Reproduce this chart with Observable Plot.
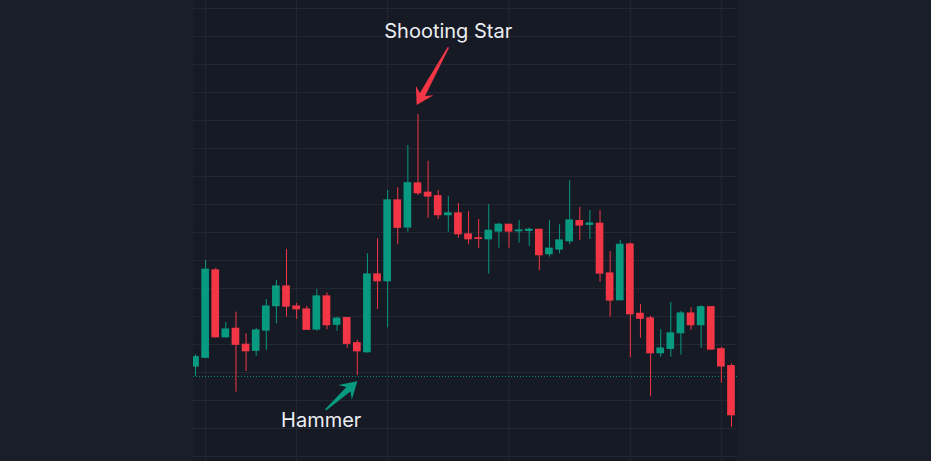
<!DOCTYPE html>
<html><head><meta charset="utf-8">
<script src="https://cdn.jsdelivr.net/npm/d3@7"></script>
<script src="https://cdn.jsdelivr.net/npm/@observablehq/plot@0.6"></script>
<style>
html,body{margin:0;padding:0;background:#1a1e29;overflow:hidden}
#chart svg{display:block}
</style></head><body><div id="chart"></div>
<script>
// OHLC values (arbitrary price units), one entry per candle
const opens = [104.43,105.05,111.29,106.52,107.12,105.98,105.55,107.00,108.74,110.14,108.71,108.50,107.07,109.43,107.41,107.88,106.09,105.45,111.00,110.52,116.29,114.36,117.50,116.84,116.59,115.24,115.36,113.86,113.59,113.52,114.07,114.55,114.09,114.12,114.19,112.45,112.79,113.38,114.81,114.55,114.62,111.07,109.16,113.14,108.19,107.86,105.38,105.69,106.81,108.21,107.38,108.66,105.66,104.45];
const closes = [105.09,111.34,106.52,107.07,105.98,105.52,107.00,108.71,110.14,108.71,108.52,107.05,109.43,107.38,107.84,106.05,105.52,111.00,110.52,116.29,114.34,117.52,116.81,116.57,115.24,115.36,113.88,113.52,113.55,114.12,114.55,114.07,114.14,114.19,112.38,112.84,113.43,114.86,114.50,114.64,111.07,109.14,113.12,108.16,107.84,105.38,105.71,106.79,108.21,107.38,108.66,105.64,104.43,100.95];
const highs = [105.26,112.00,111.43,107.57,108.31,106.76,107.16,109.21,110.57,112.79,108.95,108.71,109.93,109.69,107.95,107.88,106.29,112.48,113.55,117.00,117.19,120.21,122.43,119.09,117.00,116.59,116.07,115.50,114.93,116.00,114.66,114.55,114.86,114.31,114.19,114.86,114.55,117.71,115.79,115.57,115.57,112.64,113.43,113.24,108.86,108.02,107.05,109.00,108.36,108.62,108.76,108.66,105.81,104.62];
const lows = [103.71,105.05,106.45,106.45,102.59,104.07,105.16,105.57,107.48,107.95,107.79,107.05,106.95,107.05,106.95,105.74,103.79,105.38,108.50,107.19,113.14,114.02,116.64,115.02,114.93,114.02,113.59,113.12,112.84,111.02,112.88,112.88,113.24,113.00,111.26,112.24,112.48,113.14,113.43,113.50,110.45,107.95,109.16,105.05,106.45,102.29,105.09,105.09,105.24,107.02,105.74,105.64,103.24,100.09];

const priceGrid = [98,100,102,104,106,108,110,112,114,116,118,120,122,124,126,128,130];
const timeGrid = [1,10,19,31,43,52];
const supportLevel = 103.71;

const labels = [
  {text: "Shooting Star", x: 24.99, y: 127.88},
  {text: "Hammer", x: 12.43, y: 100.14}
];
const arrows = [
  {x1: 25.05, y1: 127.19, x2: 21.92, y2: 123.07, color: "#f23645"},
  {x1: 12.92, y1: 101.29, x2: 16.05, y2: 103.34, color: "#089981"}
];

const UP = "#089981", DOWN = "#f23645";
const candles = opens.map((o, i) => ({
  i, open: o, close: closes[i], high: highs[i], low: lows[i],
  color: closes[i] >= o ? UP : DOWN
}));

function arrowMark(list) {
  return (index, scales) => {
    const g = d3.create("svg:g");
    for (const a of list) {
      const x0 = scales.x(a.x1), y0 = scales.y(a.y1);
      const x1 = scales.x(a.x2), y1 = scales.y(a.y2);
      const dx = x1 - x0, dy = y1 - y0, len = Math.hypot(dx, dy);
      const ux = dx / len, uy = dy / len, nx = -uy, ny = ux;
      const L = 16.5, W = 10, N = 12, nw = 3, tw = 0.8;
      const p = (d, w) => [x1 - ux * d + nx * w, y1 - uy * d + ny * w];
      const pts = [
        [x0 + nx * tw, y0 + ny * tw],
        p(N, nw), p(L, W), [x1, y1], p(L, -W), p(N, -nw),
        [x0 - nx * tw, y0 - ny * tw]
      ];
      g.append("path").attr("d", "M" + pts.map(q => q.join(",")).join("L") + "Z")
        .attr("fill", a.color);
    }
    return g.node();
  };
}

const chart = Plot.plot({
  width: 931, height: 461,
  marginLeft: 193, marginRight: 194, marginTop: 0, marginBottom: 0,
  style: {background: "#1a1e29", overflow: "visible"},
  x: {type: "linear", domain: [-0.198, 53.595], axis: null},
  y: {domain: [97.643, 130.571], axis: null},
  marks: [
    Plot.frame({fill: "#161a25", stroke: null}),
    Plot.gridY(priceGrid, {stroke: "#242834", strokeOpacity: 1}),
    Plot.gridX(timeGrid, {stroke: "#242834", strokeOpacity: 1}),
    Plot.ruleY([supportLevel], {stroke: UP, strokeWidth: 1, strokeDasharray: "1,2", strokeOpacity: 0.9}),
    Plot.ruleX(candles, {x: "i", y1: "low", y2: "high", stroke: "color", strokeWidth: 1, clip: true}),
    Plot.rect(candles, {
      x1: d => d.i - 0.38, x2: d => d.i + 0.38,
      y1: d => Math.min(d.open, d.close), y2: d => Math.max(d.open, d.close),
      fill: "color", insetTop: -0.6, insetBottom: -0.6, clip: true
    }),
    arrowMark(arrows),
    Plot.text(labels, {
      x: "x", y: "y", text: "text", fill: "#eceef2", fontSize: 20,
      fontFamily: "Inter, 'Noto Sans', sans-serif", textAnchor: "middle", lineAnchor: "bottom",
      style: {letterSpacing: "0.35px"}
    })
  ]
});
document.getElementById("chart").appendChild(chart);
</script></body></html>
